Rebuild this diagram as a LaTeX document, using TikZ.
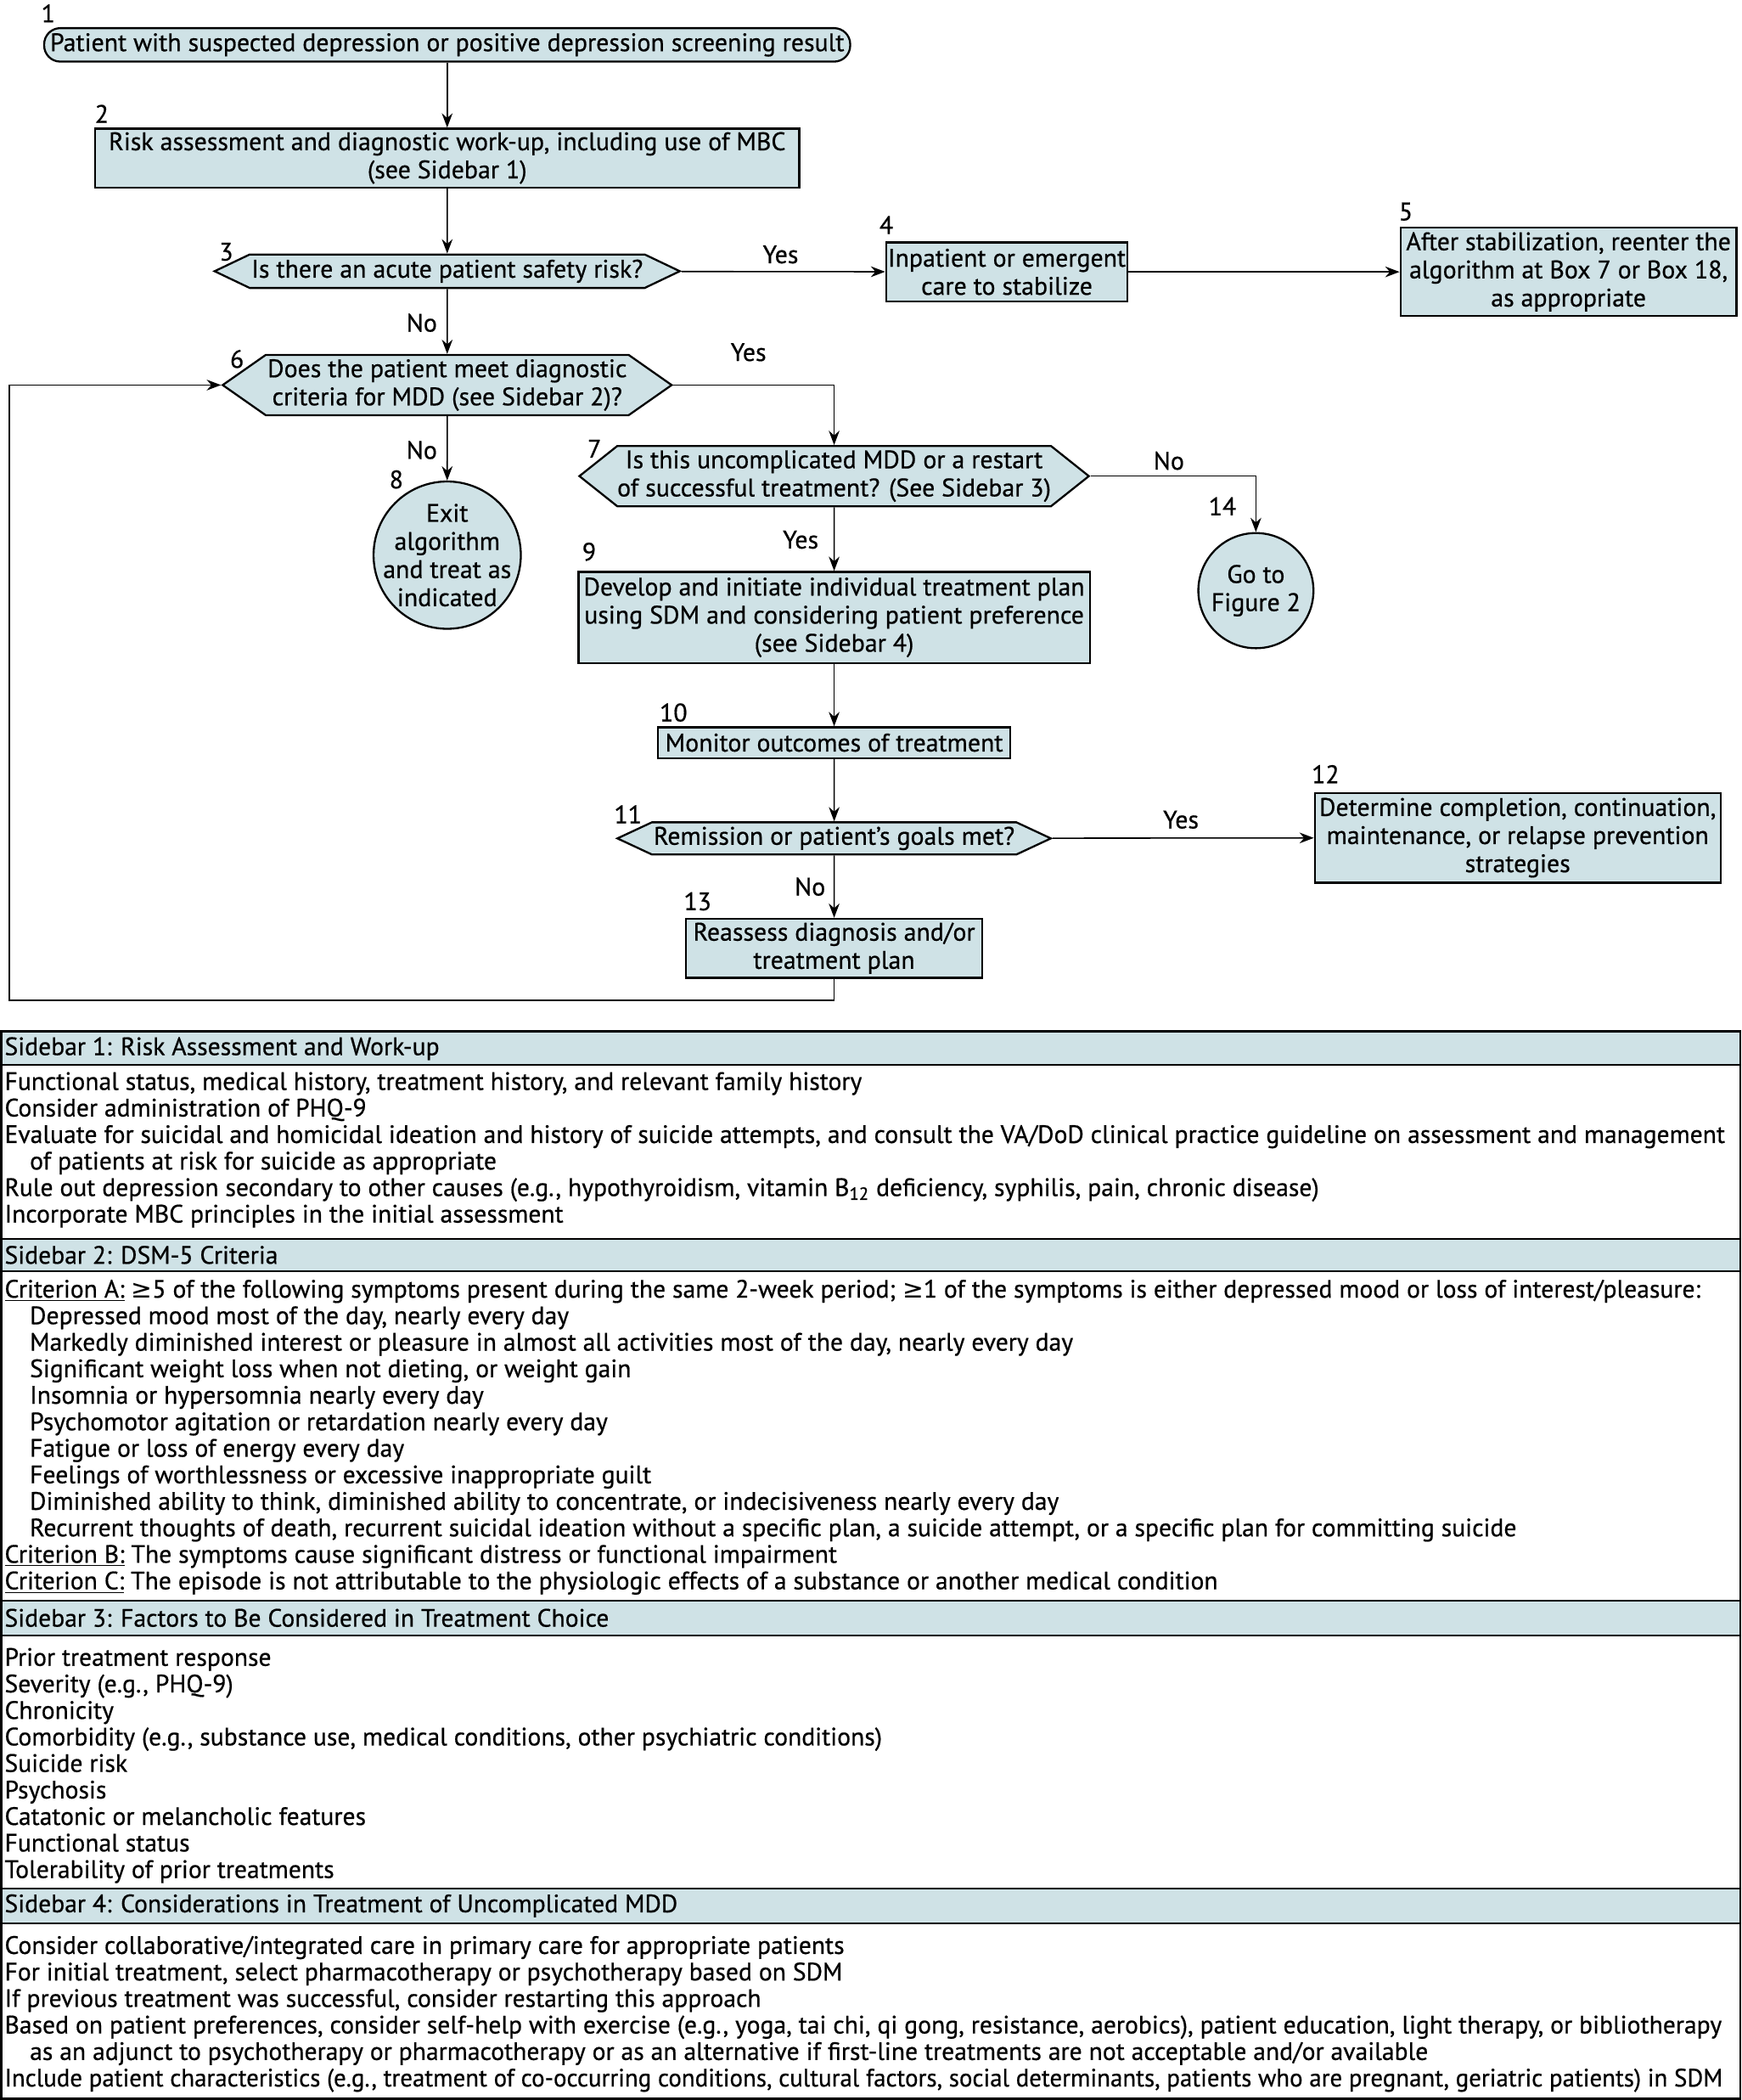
\documentclass[tikz,border=0pt]{standalone}
\usepackage{fontspec}
\setmainfont{PT Sans}[FakeBold=0.6]
\newfontfamily\symfont{DejaVu Sans}
\usetikzlibrary{arrows.meta,shapes.symbols}
\definecolor{boxfill}{RGB}{207,226,230}
\newcommand{\flowfont}{\fontsize{14.2}{15.75}\selectfont}
\newcommand{\sidefont}{\fontsize{14.1}{14.85}\selectfont}
\newcommand{\geqsym}{{\symfont ≥}}
\tikzset{every picture/.style={line width=0.75pt}}
\tikzset{
  flowbox/.style={draw, fill=boxfill, line width=1.1pt, inner sep=1pt, align=center, font=\flowfont},
  hexbox/.style={flowbox, shape=signal, signal to=west and east},
  exitbox/.style={flowbox, circle},
  numlabel/.style={inner sep=0pt, font=\flowfont},
  answer/.style={inner sep=0pt, font=\flowfont},
  arr/.style={-{Stealth[length=8pt,width=6pt]}},
  sidehead/.style={draw, fill=boxfill, line width=1.1pt},
  sidetext/.style={inner sep=0pt, align=left, font=\sidefont},
}

\begin{document}
\begin{tikzpicture}[x=0.75pt,y=0.75pt,yscale=-1,xscale=1]
\useasboundingbox (0,0) rectangle (1301,1568);

%Flowchart: Rounded Rectangle
\draw (334,33.5) node [flowbox, rounded corners=9pt] [minimum width=451.5pt, minimum height=18.75pt] (b1) {Patient with suspected depression or positive depression screening result};
%Flowchart: Process
\draw (334,118) node [flowbox] [minimum width=394.5pt, minimum height=33pt] (b2) {Risk assessment and diagnostic work-up, including use of MBC\\(see Sidebar 1)};
%Flowchart: Decision
\draw (334,202.5) node [hexbox, signal pointer angle=51] [minimum width=252.75pt, minimum height=18.75pt] (d3) {Is there an acute patient safety risk?};
%Flowchart: Process
\draw (752,203) node [flowbox] [minimum width=135pt, minimum height=33pt] (b4) {Inpatient or emergent\\care to stabilize};
%Flowchart: Process
\draw (1171.5,203) node [flowbox] [minimum width=188.25pt, minimum height=49.5pt] (b5) {After stabilization, reenter the\\algorithm at Box 7 or Box 18,\\as appropriate};
%Flowchart: Decision
\draw (334,287.5) node [hexbox, signal pointer angle=70] [minimum width=243pt, minimum height=33.75pt] (d6) {Does the patient meet diagnostic\\criteria for MDD (see Sidebar 2)?};
%Flowchart: Decision
\draw (623,355.5) node [hexbox, signal pointer angle=77, inner xsep=0pt] [minimum width=282pt, minimum height=33.75pt] (d7) {Is this uncomplicated MDD or a restart\\of successful treatment? (See Sidebar 3)};
%Flowchart: Connector
\draw (334,414.5) node [exitbox, inner sep=-10pt] [minimum size=82.5pt] (c8) {Exit\\algorithm\\and treat as\\indicated};
%Flowchart: Connector
\draw (938,441) node [exitbox, inner sep=0pt] [minimum size=64.5pt] (c14) {Go to\\Figure 2};
%Flowchart: Process
\draw (623,461) node [flowbox] [minimum width=286.5pt, minimum height=51pt] (b9) {Develop and initiate individual treatment plan\\using SDM and considering patient preference\\(see Sidebar 4)};
%Flowchart: Process
\draw (623,554.5) node [flowbox] [minimum width=197.25pt, minimum height=17.25pt] (b10) {Monitor outcomes of treatment};
%Flowchart: Decision
\draw (623,626) node [hexbox, signal pointer angle=50] [minimum width=240pt, minimum height=18pt] (d11) {Remission or patient’s goals met?};
%Flowchart: Process
\draw (1133.5,625.5) node [flowbox] [minimum width=227.25pt, minimum height=50.25pt] (b12) {Determine completion, continuation,\\maintenance, or relapse prevention\\strategies};
%Flowchart: Process
\draw (623,708) node [flowbox] [minimum width=165.75pt, minimum height=33pt] (b13) {Reassess diagnosis and/or\\treatment plan};
\coordinate (back) at (7,747);

% Text Node
\draw (36,10) node [numlabel] (n1) {1};
\draw (76,85) node [numlabel] (n2) {2};
\draw (169,188) node [numlabel] (n3) {3};
\draw (662,168) node [numlabel] (n4) {4};
\draw (1050,158) node [numlabel] (n5) {5};
\draw (177,268) node [numlabel] (n6) {6};
\draw (444,335) node [numlabel] (n7) {7};
\draw (296,358) node [numlabel] (n8) {8};
\draw (440,412) node [numlabel] (n9) {9};
\draw (503,532) node [numlabel] (n10) {10};
\draw (469,608) node [numlabel] (n11) {11};
\draw (990,578) node [numlabel] (n12) {12};
\draw (521,673) node [numlabel] (n13) {13};
\draw (913,378) node [numlabel] (n14) {14};

%Straight Lines
\draw [arr] (b1) -- (b2);
\draw [arr] (b2) -- (d3);
\draw [arr] (d3) -- (b4);
\draw [arr] (b4) -- (b5);
\draw [arr] (d3) -- (d6);
\draw [arr] (d6) -- (c8);
\draw [arr] (d6.east) -| (d7.north);
\draw [arr] (d7.east) -| (c14.north);
\draw [arr] (d7) -- (b9);
\draw [arr] (b9) -- (b10);
\draw [arr] (b10) -- (d11);
\draw [arr] (d11) -- (b12);
\draw [arr] (d11) -- (b13);
\draw [arr] (b13.south) |- (back) |- (d6.west);

% Text Node
\draw (583,190) node [answer] (y3) {Yes};
\draw (315,241) node [answer] (no3) {No};
\draw (559,263) node [answer] (y6) {Yes};
\draw (315,336) node [answer] (no6) {No};
\draw (873,344) node [answer] (no7) {No};
\draw (598,403) node [answer] (y7) {Yes};
\draw (882,612) node [answer] (y11) {Yes};
\draw (605,662) node [answer] (no11) {No};

%Shape: Rectangle
\draw [sidehead] (1,770) rectangle (1300,795);
\draw [sidehead] (1,925) rectangle (1300,949);
\draw [sidehead] (1,1195) rectangle (1300,1221);
\draw [sidehead] (1,1410) rectangle (1300,1436);
\draw [line width=1.1pt] (1,770) rectangle (1300,1567);

% Text Node
\draw (3,783) node [anchor=west] [sidetext] (sh1) {Sidebar 1: Risk Assessment and Work-up};
\draw (3,937) node [anchor=west] [sidetext] (sh2) {Sidebar 2: DSM-5 Criteria};
\draw (3,1208) node [anchor=west] [sidetext] (sh3) {Sidebar 3: Factors to Be Considered in Treatment Choice};
\draw (3,1423) node [anchor=west] [sidetext] (sh4) {Sidebar 4: Considerations in Treatment of Uncomplicated MDD};

% Text Node
\draw (3,800) node [anchor=north west] [sidetext] (st1) {Functional status, medical history, treatment history, and relevant family history\\
Consider administration of PHQ-9\\
Evaluate for suicidal and homicidal ideation and history of suicide attempts, and consult the VA/DoD clinical practice guideline on assessment and management\\
\hspace*{1em}of patients at risk for suicide as appropriate\\
Rule out depression secondary to other causes (e.g., hypothyroidism, vitamin B\textsubscript{12} deficiency, syphilis, pain, chronic disease)\\
Incorporate MBC principles in the initial assessment};
% Text Node
\draw (3,955) node [anchor=north west] [sidetext] (st2) {\underline{Criterion A:} \geqsym5 of the following symptoms present during the same 2-week period; \geqsym1 of the symptoms is either depressed mood or loss of interest/pleasure:\\
\hspace*{1em}Depressed mood most of the day, nearly every day\\
\hspace*{1em}Markedly diminished interest or pleasure in almost all activities most of the day, nearly every day\\
\hspace*{1em}Significant weight loss when not dieting, or weight gain\\
\hspace*{1em}Insomnia or hypersomnia nearly every day\\
\hspace*{1em}Psychomotor agitation or retardation nearly every day\\
\hspace*{1em}Fatigue or loss of energy every day\\
\hspace*{1em}Feelings of worthlessness or excessive inappropriate guilt\\
\hspace*{1em}Diminished ability to think, diminished ability to concentrate, or indecisiveness nearly every day\\
\hspace*{1em}Recurrent thoughts of death, recurrent suicidal ideation without a specific plan, a suicide attempt, or a specific plan for committing suicide\\
\underline{Criterion B:} The symptoms cause significant distress or functional impairment\\
\underline{Criterion C:} The episode is not attributable to the physiologic effects of a substance or another medical condition};
% Text Node
\draw (3,1230) node [anchor=north west] [sidetext] (st3) {Prior treatment response\\
Severity (e.g., PHQ-9)\\
Chronicity\\
Comorbidity (e.g., substance use, medical conditions, other psychiatric conditions)\\
Suicide risk\\
Psychosis\\
Catatonic or melancholic features\\
Functional status\\
Tolerability of prior treatments};
% Text Node
\draw (3,1445) node [anchor=north west] [sidetext] (st4) {Consider collaborative/integrated care in primary care for appropriate patients\\
For initial treatment, select pharmacotherapy or psychotherapy based on SDM\\
If previous treatment was successful, consider restarting this approach\\
Based on patient preferences, consider self-help with exercise (e.g., yoga, tai chi, qi gong, resistance, aerobics), patient education, light therapy, or bibliotherapy\\
\hspace*{1em}as an adjunct to psychotherapy or pharmacotherapy or as an alternative if first-line treatments are not acceptable and/or available\\
\scalebox{0.975}[1]{Include patient characteristics (e.g., treatment of co-occurring conditions, cultural factors, social determinants, patients who are pregnant, geriatric patients) in SDM}};

\end{tikzpicture}
\end{document}
